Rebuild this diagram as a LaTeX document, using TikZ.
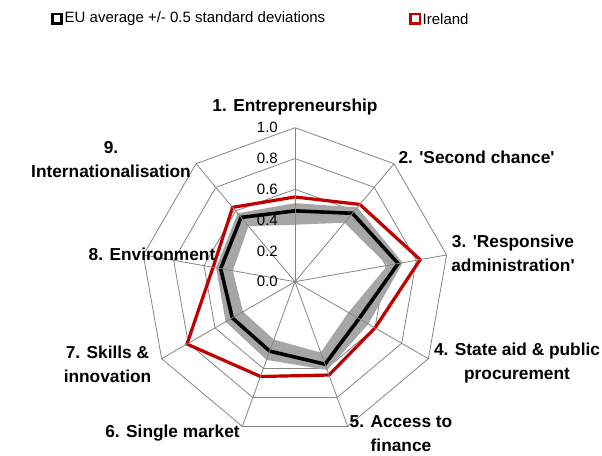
\documentclass[tikz,border=0pt]{standalone}
\usepackage{fontspec}
\setmainfont{Liberation Sans}
\usetikzlibrary{calc}
\definecolor{ireland}{RGB}{192,0,0}
\definecolor{bandgray}{RGB}{166,166,166}
\definecolor{gridgray}{RGB}{134,134,134}
\begin{document}
\begin{tikzpicture}[x=1pt,y=1pt,
  lab/.style={font=\bfseries\fontsize{17.3}{24}\selectfont, align=center, inner sep=0pt},
  ticklab/.style={font=\fontsize{15}{17}\selectfont, anchor=east, inner sep=0pt},
  legtext/.style={font=\fontsize{15}{17}\selectfont, anchor=west, inner sep=0pt},
  gridline/.style={draw=gridgray, line width=0.8pt},
  spoke/.style={draw=gridgray, line width=0.8pt},
  eubox/.style={draw=black, fill=white, line width=2.6pt, minimum size=9.4pt, inner sep=0pt},
  irbox/.style={draw=ireland, fill=white, line width=2.6pt, minimum size=9.4pt, inner sep=0pt},
  euline/.style={draw=black, line width=3.6pt, line join=miter},
  irline/.style={draw=ireland, line width=3.2pt, line join=miter}]
\useasboundingbox (0,0) rectangle (602,455);
\fill[white] (0,0) rectangle (602,455);
\begin{scope}[shift={(295,173.3)}]
  % rings
  \foreach \v in {0.6,0.8,1.0}
    \draw[gridline] (90:{\v*154}) -- (50:{\v*154}) -- (10:{\v*154}) -- (-30:{\v*154}) -- (-70:{\v*154}) -- (-110:{\v*154}) -- (-150:{\v*154}) -- (170:{\v*154}) -- (130:{\v*154}) -- cycle;
  % data coordinates
  \foreach \v [count=\i from 0] in {0.51,0.63,0.71,0.55,0.61,0.54,0.52,0.52,0.58}
    \coordinate (u\i) at ({90-40*\i}:{\v*154});
  \foreach \v [count=\i from 0] in {0.37,0.50,0.61,0.40,0.49,0.40,0.39,0.41,0.47}
    \coordinate (l\i) at ({90-40*\i}:{\v*154});
  \foreach \v [count=\i from 0] in {0.46,0.58,0.68,0.48,0.57,0.48,0.47,0.49,0.545}
    \coordinate (e\i) at ({90-40*\i}:{\v*154});
  \foreach \v [count=\i from 0] in {0.55,0.655,0.825,0.60,0.645,0.655,0.81,0.54,0.63}
    \coordinate (r\i) at ({90-40*\i}:{\v*154});
  \coordinate (c) at (0,0);
  % band
  \fill[bandgray, even odd rule] (u0) -- (u1) -- (u2) -- (u3) -- (u4) -- (u5) -- (u6) -- (u7) -- (u8) -- cycle
    (l0) -- (l1) -- (l2) -- (l3) -- (l4) -- (l5) -- (l6) -- (l7) -- (l8) -- cycle;
  \draw[euline] (e0) -- (e1) -- (e2) -- (e3) -- (e4) -- (e5) -- (e6) -- (e7) -- (e8) -- cycle;
  \draw[irline] (r0) -- (r1) -- (r2) -- (r3) -- (r4) -- (r5) -- (r6) -- (r7) -- (r8) -- cycle;
  % spokes
  \foreach \i in {0,...,8}
    \draw[spoke] (c) -- ({90-40*\i}:154);
  % tick labels
  \foreach \v/\t [count=\j] in {0/0.0,0.2/0.2,0.4/0.4,0.6/0.6,0.8/0.8,1.0/1.0}
    \node[ticklab] (t\j) at (-17,{\v*154}) {\t};
\end{scope}
% axis labels
\node[lab] (a1) at (295,348) {1. Entrepreneurship};
\node[lab] (a2) at (476.5,298) {2. \textquotesingle Second chance\textquotesingle};
\node[lab] (a3) at (513,202) {3. \textquotesingle Responsive\\administration\textquotesingle};
\node[lab] (a4) at (517,92) {4. State aid \& public\\procurement};
\node[lab] (a5) at (401,21.5) {5. Access to\\finance};
\node[lab] (a6) at (172.5,22) {6. Single market};
\node[lab] (a7) at (107.5,91) {7. Skills \&\\innovation};
\node[lab] (a8) at (152,201) {8. Environment};
\node[lab] (a9) at (111,295) {9.\\Internationalisation};
% legend
\node[eubox] (k1) at (57,436.1) {};
\node[legtext] (k1t) at (64.5,436.1) {EU average +/- 0.5 standard deviations};
\node[irbox] (k2) at (415.3,436.1) {};
\node[legtext] (k2t) at (422.5,436.1) {Ireland};
\end{tikzpicture}
\end{document}
